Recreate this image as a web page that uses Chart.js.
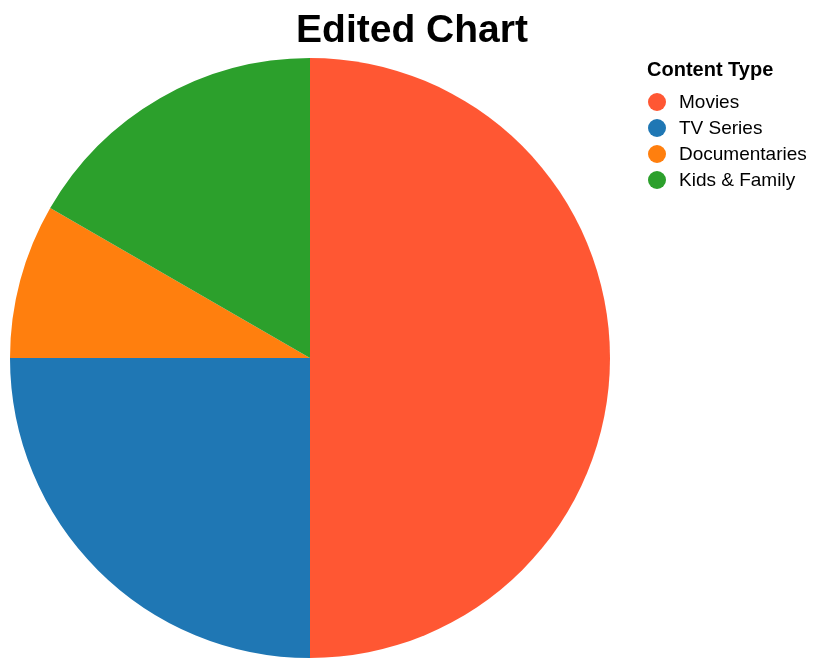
<!DOCTYPE html>
<html>
<head>
<meta charset="utf-8">
<script src="https://cdn.jsdelivr.net/npm/chart.js@4"></script>
<style>
    body { margin: 0; background: #fff; font-family: "Liberation Sans", Arial, sans-serif; }
    #wrap { position: relative; width: 824px; height: 668px; }
    #title { position: absolute; left: 0; top: 7px; width: 824px; text-align: center; font-size: 39px; font-weight: bold; color: #000; margin: 0; }
    #legend { position: absolute; left: 647px; top: 57px; color: #000; }
    #legend h2 { font-size: 20px; font-weight: bold; margin: 0 0 8px 0; line-height: 24px; }
    #legend ul { list-style: none; margin: 0; padding: 0; }
    #legend li { height: 26px; line-height: 26px; font-size: 19px; white-space: nowrap; }
    #legend span.dot { display: inline-block; width: 18px; height: 18px; border-radius: 50%; vertical-align: -3px; margin-left: 1px; margin-right: 13px; }
    canvas { position: absolute; left: 0; top: 0; }
</style>
</head>
<body>
<div id="wrap">
    <canvas id="pieChart" width="824" height="668"></canvas>
    <h1 id="title">Edited Chart</h1>
    <div id="legend">
        <h2>Content Type</h2>
        <ul id="legend-ul"></ul>
    </div>
</div>
<script>
"use strict"

//data för diagrammet
const contentTypes = ["Movies", "TV Series", "Documentaries", "Kids & Family"];
const contentValues = [60, 30, 10, 20];
const contentColors = ["#ff5733", "#1f77b4", "#ff7f0e", "#2ca02c"];

const pieEl = document.getElementById("pieChart");
const legendEl = document.getElementById("legend-ul");

//skriver ut legenden
contentTypes.forEach((type, i) => {
    const li = document.createElement("li");
    li.innerHTML = `<span class="dot" style="background:${contentColors[i]}"></span>${type}`;
    legendEl.appendChild(li);
});

new Chart(pieEl, {
    type: "pie",
    data: {
        labels: contentTypes,
        datasets: [{
            label: "Content Type",
            data: contentValues,
            backgroundColor: contentColors,
            borderWidth: 0
        }]
    },
    options: {
        responsive: false,
        animation: false,
        layout: {
            padding: { left: 10, top: 58, right: 214, bottom: 10 }
        },
        plugins: {
            legend: { display: false },
            title: { display: false },
            tooltip: { enabled: false }
        }
    }
});
</script>
</body>
</html>
